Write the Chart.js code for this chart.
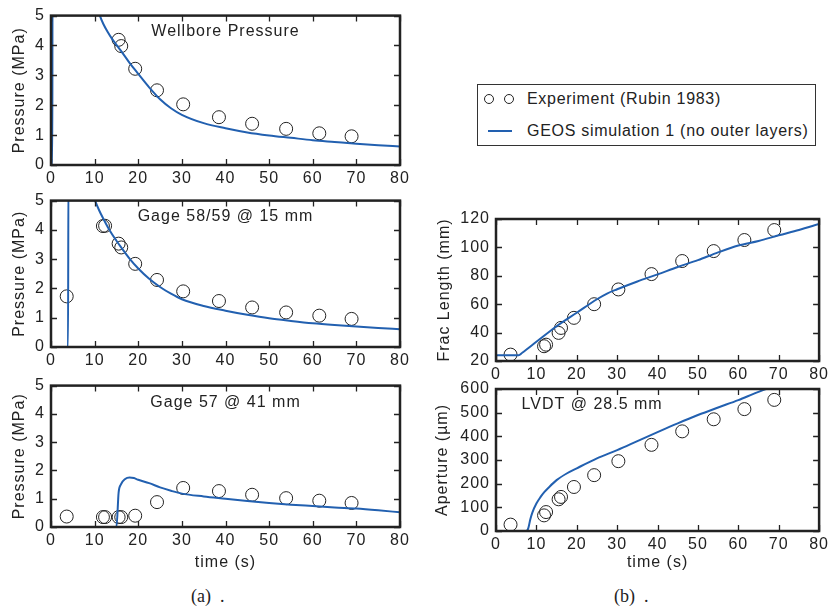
<!DOCTYPE html>
<html>
<head>
<meta charset="utf-8">
<script src="https://cdn.jsdelivr.net/npm/chart.js@4.4.1/dist/chart.umd.min.js"></script>
<style>
  body { margin: 0; background: #fff; width: 833px; height: 608px; position: relative; overflow: hidden; }
  canvas { position: absolute; }
  #legend { position: absolute; left: 477px; top: 84px; width: 337px; height: 60px; border: 1.5px solid #333;
            font: 16px "Liberation Sans", Arial, sans-serif; letter-spacing: 0.7px; color: #222; }
  .row { position: absolute; left: 0; height: 20px; line-height: 20px; white-space: nowrap; }
  .dot { position: absolute; width: 8px; height: 8px; border: 1px solid #222; border-radius: 50%; }
  .caption { position: absolute; font: 18px "Liberation Serif", "DejaVu Serif", serif; color: #222; }
</style>
</head>
<body>
<canvas id="wellbore" width="420" height="192" style="left:0;top:0"></canvas>
<canvas id="gage58" width="420" height="190" style="left:0;top:185px"></canvas>
<canvas id="gage57" width="420" height="210" style="left:0;top:370px"></canvas>
<canvas id="fracLength" width="413" height="185" style="left:420px;top:200px"></canvas>
<canvas id="aperture" width="413" height="210" style="left:420px;top:370px"></canvas>

<div id="legend">
  <div class="dot" style="left:6px;top:9px"></div>
  <div class="dot" style="left:26px;top:9px"></div>
  <div class="row" style="top:4px;left:49px">Experiment (Rubin 1983)</div>
  <div style="position:absolute;left:10px;top:45px;width:24px;height:2px;background:#2260b0"></div>
  <div class="row" style="top:36px;left:49px">GEOS simulation 1 (no outer layers)</div>
</div>
<div class="caption" style="left:191px;top:586px">(a)&nbsp;&nbsp;.</div>
<div class="caption" style="left:614px;top:586px">(b)&nbsp;&nbsp;.</div>

<script>
// experiment times (s), shared by all panels
let expTime = [3.6, 11.9, 12.4, 15.5, 16.1, 19.3, 24.3, 30.3, 38.5, 46.1, 53.9, 61.5, 68.9];

// wellbore pressure (MPa), no readings before 15 s
let wellExpTime = [15.5, 16.1, 19.3, 24.3, 30.3, 38.5, 46.1, 53.9, 61.5, 68.9];
let wellExp = [4.19, 3.98, 3.22, 2.5, 2.03, 1.6, 1.38, 1.21, 1.06, 0.96];
let wellSimTime = [0, 0.3, 0.35, 10.6, 11.2, 12, 13, 14, 15, 16, 18, 20, 22.5, 25, 27.5, 30, 35, 40, 45, 50, 55, 60, 65, 70, 75, 80];
let wellSim = [0, 0, 6, 5.3, 5.0, 4.72, 4.45, 4.22, 4.02, 3.83, 3.42, 3.05, 2.6, 2.2, 1.9, 1.68, 1.4, 1.23, 1.09, 0.99, 0.91, 0.83, 0.77, 0.71, 0.66, 0.62];

// gage 58/59 @ 15 mm
let gage58Exp = [1.73, 4.13, 4.14, 3.53, 3.4, 2.84, 2.29, 1.9, 1.57, 1.35, 1.18, 1.07, 0.96];
let gage58SimTime = [0, 3.9, 4.0, 9.6, 10.1, 11, 12, 13, 14, 15, 16, 18, 20, 22.5, 25, 27.5, 30, 35, 40, 45, 50, 55, 60, 65, 70, 75, 80];
let gage58Sim = [0, 0, 6, 5.2, 5.0, 4.68, 4.38, 4.1, 3.85, 3.63, 3.42, 3.02, 2.68, 2.33, 2.05, 1.82, 1.63, 1.4, 1.24, 1.1, 0.98, 0.89, 0.81, 0.75, 0.7, 0.65, 0.61];

// gage 57 @ 41 mm
let gage57Exp = [0.37, 0.35, 0.35, 0.35, 0.35, 0.4, 0.88, 1.38, 1.27, 1.14, 1.02, 0.93, 0.85];
let gage57SimTime = [0, 15.0, 15.5, 16, 17, 18, 19, 20, 22.5, 25, 27.5, 30, 35, 40, 45, 50, 55, 60, 65, 70, 75, 80];
let gage57Sim = [0, 0, 1.22, 1.5, 1.7, 1.75, 1.73, 1.67, 1.55, 1.4, 1.28, 1.18, 1.08, 1.0, 0.92, 0.85, 0.79, 0.74, 0.69, 0.65, 0.59, 0.52];

// frac length (mm)
let fracExp = [24.5, 30.4, 31.5, 39.8, 43.3, 50.4, 60, 70.4, 81.2, 90.4, 97.4, 105.2, 112.2];
let fracSimTime = [0, 5.6, 6.5, 10, 15, 20, 25, 27.5, 30, 35, 40, 45, 50, 55, 60, 65, 70, 75, 80];
let fracSim = [24, 24, 25.8, 33.5, 44.5, 54, 63.5, 67.5, 70.5, 76, 81, 86.2, 91, 96.5, 101.3, 104.5, 108.5, 112.3, 116.5];

// aperture (µm) at LVDT
let apertureExp = [27, 66, 80, 134, 144, 186, 236, 295, 364, 421, 472, 515, 554];
let apertureSimTime = [0, 7.5, 8, 8.5, 9, 10, 11, 12, 13, 15, 17.5, 20, 25, 30, 35, 40, 45, 50, 55, 60, 65, 70, 75, 80];
let apertureSim = [0, 0, 12, 50, 78, 116, 143, 165, 183, 215, 243, 265, 307, 342, 380, 418, 455, 490, 522, 553, 588, 617, 650, 680];

let xTicks = [0, 10, 20, 30, 40, 50, 60, 70, 80];

const FONT = '"Liberation Sans", Arial, sans-serif';
const INK = '#222';
const BLUE = '#2260b0';

Chart.defaults.font.family = FONT;
Chart.defaults.font.size = 16;
Chart.defaults.color = INK;

// box frame, inward ticks on all four sides, panel label
const framePlugin = {
    id: 'frame',
    beforeLayout(chart) {
        chart.ctx.letterSpacing = '1px';
    },
    afterDraw(chart, args, opts) {
        let ctx = chart.ctx;
        let a = chart.chartArea;
        let xs = chart.scales.x;
        let ys = chart.scales.y;
        ctx.save();
        ctx.strokeStyle = INK;
        ctx.lineWidth = 1.3;
        ctx.beginPath();
        xs.ticks.forEach(t => {
            let px = Math.round(xs.getPixelForValue(t.value)) + 0.5;
            ctx.moveTo(px, a.bottom); ctx.lineTo(px, a.bottom - 6);
            ctx.moveTo(px, a.top); ctx.lineTo(px, a.top + 6);
        });
        ys.ticks.forEach(t => {
            let py = Math.round(ys.getPixelForValue(t.value)) + 0.5;
            ctx.moveTo(a.left, py); ctx.lineTo(a.left + 6, py);
            ctx.moveTo(a.right, py); ctx.lineTo(a.right - 6, py);
        });
        ctx.stroke();
        ctx.lineWidth = 2.5;
        ctx.strokeRect(a.left, a.top, a.right - a.left, a.bottom - a.top);
        if (opts.text) {
            ctx.font = '16px ' + FONT;
            ctx.letterSpacing = '1px';
            ctx.fillStyle = INK;
            ctx.textAlign = 'center';
            ctx.textBaseline = 'middle';
            ctx.fillText(opts.text, xs.getPixelForValue(opts.at[0]), ys.getPixelForValue(opts.at[1]));
        }
        ctx.restore();
    }
};

function pairs(xs, ys) {
    return xs.map((x, i) => ({ x: x, y: ys[i] }));
}

function crearPanel(id, p) {
    let ctx = document.getElementById(id).getContext('2d');
    return new Chart(ctx, {
        type: 'scatter',
        data: {
            datasets: [{
                label: 'GEOS simulation 1 (no outer layers)',
                data: pairs(p.simTime, p.sim),
                showLine: true,
                borderColor: BLUE,
                borderWidth: 2,
                pointRadius: 0,
                cubicInterpolationMode: 'monotone'
            }, {
                label: 'Experiment (Rubin 1983)',
                data: pairs(p.expTime, p.exp),
                pointStyle: 'circle',
                pointRadius: 6.5,
                borderWidth: 1,
                borderColor: INK,
                backgroundColor: 'rgba(0,0,0,0)',
                clip: false
            }]
        },
        options: {
            responsive: false,
            animation: false,
            devicePixelRatio: 1,
            layout: { padding: { top: p.top, right: p.right, left: 0, bottom: 0 } },
            plugins: {
                legend: { display: false },
                tooltip: { enabled: false },
                frame: { text: p.label, at: p.labelAt }
            },
            scales: {
                x: {
                    type: 'linear', min: 0, max: 80,
                    afterBuildTicks: s => { s.ticks = xTicks.map(v => ({ value: v })); },
                    afterFit: s => { s.height = p.xHeight; },
                    grid: { display: false, drawTicks: false },
                    border: { display: false },
                    ticks: { padding: 4, maxRotation: 0, autoSkip: false },
                    title: { display: !!p.xTitle, text: p.xTitle, padding: { top: 0, bottom: 8 } }
                },
                y: {
                    type: 'linear', min: p.yMin, max: p.yMax,
                    afterBuildTicks: s => { s.ticks = p.yTicks.map(v => ({ value: v })); },
                    afterFit: s => { s.width = p.yWidth; },
                    grid: { display: false, drawTicks: false },
                    border: { display: false },
                    ticks: { padding: 6, autoSkip: false },
                    title: { display: true, text: p.yTitle, padding: { top: p.yTitlePad, bottom: 0 } }
                }
            }
        },
        plugins: [framePlugin]
    });
}

let pressureTicks = [0, 1, 2, 3, 4, 5];

crearPanel('wellbore', {
    simTime: wellSimTime, sim: wellSim, expTime: wellExpTime, exp: wellExp,
    yMin: 0, yMax: 5, yTicks: pressureTicks, yTitle: 'Pressure (MPa)',
    top: 15, right: 20, xHeight: 27, yWidth: 51, yTitlePad: 10,
    label: 'Wellbore Pressure', labelAt: [40, 4.45]
});

crearPanel('gage58', {
    simTime: gage58SimTime, sim: gage58Sim, expTime: expTime, exp: gage58Exp,
    yMin: 0, yMax: 5, yTicks: pressureTicks, yTitle: 'Pressure (MPa)',
    top: 12, right: 20, xHeight: 28, yWidth: 51, yTitlePad: 10,
    label: 'Gage 58/59 @ 15 mm', labelAt: [40, 4.46]
});

crearPanel('gage57', {
    simTime: gage57SimTime, sim: gage57Sim, expTime: expTime, exp: gage57Exp,
    yMin: 0, yMax: 5, yTicks: pressureTicks, yTitle: 'Pressure (MPa)',
    top: 6, right: 20, xHeight: 53, yWidth: 51, yTitlePad: 10, xTitle: 'time (s)',
    label: 'Gage 57 @ 41 mm', labelAt: [40, 4.4]
});

crearPanel('fracLength', {
    simTime: fracSimTime, sim: fracSim, expTime: expTime, exp: fracExp,
    yMin: 20, yMax: 120, yTicks: [20, 40, 60, 80, 100, 120], yTitle: 'Frac Length (mm)',
    top: 19, right: 8, xHeight: 24, yWidth: 76, yTitlePad: 15
});

crearPanel('aperture', {
    simTime: apertureSimTime, sim: apertureSim, expTime: expTime, exp: apertureExp,
    yMin: 0, yMax: 600, yTicks: [0, 100, 200, 300, 400, 500, 600], yTitle: 'Aperture (µm)',
    top: 19, right: 8, xHeight: 49, yWidth: 76, yTitlePad: 13, xTitle: 'time (s)',
    label: 'LVDT @ 28.5 mm', labelAt: [23.8, 535]
});
</script>
</body>
</html>
